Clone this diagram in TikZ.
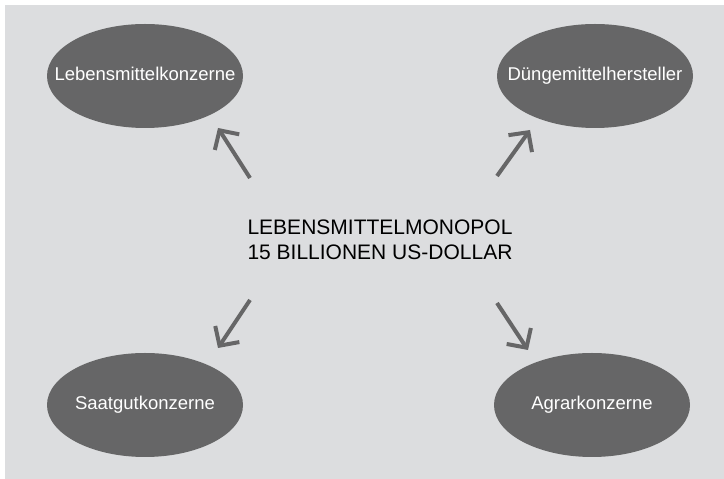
\documentclass[tikz,border=0pt]{standalone}
\usepackage{fontspec}
\setmainfont{Liberation Sans}
\usepackage{tikz}
\usetikzlibrary{arrows.meta,shapes.geometric}
\definecolor{bggray}{HTML}{DCDDDF}
\definecolor{darkgray}{HTML}{666667}

\begin{document}
\begin{tikzpicture}[x=1pt,y=1pt,
        firma/.style={ellipse,fill=darkgray,minimum width=196pt,minimum height=104pt,inner sep=0pt,
            label={[text=white,text height=13pt,text depth=4pt,font=\fontsize{18.5}{21}\selectfont]center:#1}},
        pfeil/.style={darkgray,line width=4pt,-{Straight Barb[length=14pt,width=29pt]}}]
            \useasboundingbox (0,0) rectangle (724,479);
            \fill[bggray] (5,0) rectangle (724,474);
            \node[firma=Lebensmittelkonzerne] (lebens) at (145,403) {};
            \node[firma=Düngemittelhersteller] (duenger) at (595,403) {};
            \node[firma=Saatgutkonzerne] (saatgut) at (145,74) {};
            \node[firma=Agrarkonzerne] (agrar) at (592,74) {};
            \node[align=center,font=\fontsize{21}{25}\selectfont] (monopol) at (380,239) {LEBENSMITTELMONOPOL\\15 BILLIONEN US-DOLLAR};
            \coordinate (a1) at (250,301); \coordinate (b1) at (218,351);
            \coordinate (a2) at (497,303); \coordinate (b2) at (530,349);
            \coordinate (a3) at (250,179); \coordinate (b3) at (218,131);
            \coordinate (a4) at (497,176); \coordinate (b4) at (528,129);
            \foreach \i in {1,2,3,4}
                \draw[pfeil] (a\i) -- (b\i);
        \end{tikzpicture}
\end{document}
